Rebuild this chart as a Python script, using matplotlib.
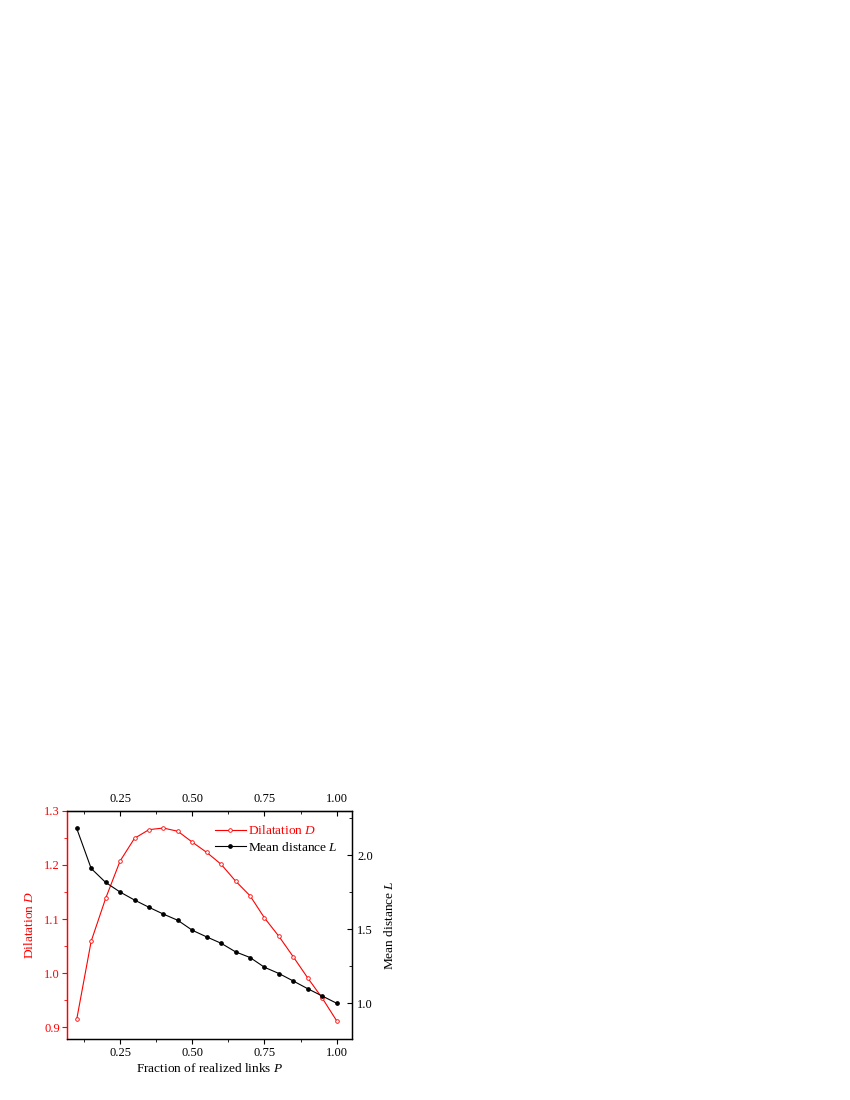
import matplotlib.pyplot as plt
from matplotlib.ticker import MultipleLocator

plt.rcParams['font.family'] = ['Liberation Serif', 'DejaVu Serif']
plt.rcParams['mathtext.fontset'] = 'custom'
plt.rcParams['mathtext.it'] = 'Liberation Serif:italic'
plt.rcParams['mathtext.rm'] = 'Liberation Serif'

# fraction of realized links P
p_values = [0.10, 0.15, 0.20, 0.25, 0.30, 0.35, 0.40, 0.45, 0.50, 0.55,
            0.60, 0.65, 0.70, 0.75, 0.80, 0.85, 0.90, 0.95, 1.00]
# dilatation D (left axis)
dilatation = [0.915, 1.059, 1.138, 1.207, 1.249, 1.265, 1.268, 1.262, 1.242,
              1.223, 1.201, 1.170, 1.143, 1.102, 1.068, 1.030, 0.991, 0.954,
              0.912]
# mean distance L (right axis)
mean_distance = [2.18, 1.910, 1.816, 1.751, 1.697, 1.648, 1.602, 1.560, 1.493,
                 1.448, 1.405, 1.347, 1.309, 1.243, 1.201, 1.150, 1.098, 1.049,
                 1.000]

red = '#ff0000'
fs_tick = 9
fs = 9.6

fig = plt.figure(figsize=(8.5, 11), dpi=100)
ax = fig.add_axes([0.0794, 0.0552, 0.3344, 0.2078])
ax2 = ax.twinx()

l1, = ax.plot(p_values, dilatation, color=red, lw=0.8, marker='o', ms=2.6,
              mfc='white', mec=red, mew=0.6, label='Dilatation $D$')
l2, = ax2.plot(p_values, mean_distance, color='black', lw=0.8, marker='o',
               ms=2.4, mfc='black', mec='black', label='Mean distance $L$')

ax.set_xlim(0.068, 1.052)
ax.set_ylim(0.878, 1.30)
ax2.set_ylim(0.757, 2.30)

ax.xaxis.set_major_locator(MultipleLocator(0.25))
ax.xaxis.set_minor_locator(MultipleLocator(0.125))
ax.yaxis.set_major_locator(MultipleLocator(0.1))
ax.yaxis.set_minor_locator(MultipleLocator(0.05))
ax2.yaxis.set_major_locator(MultipleLocator(0.5))
ax2.yaxis.set_minor_locator(MultipleLocator(0.25))
ax.xaxis.set_major_formatter(lambda v, pos: f'{v:.2f}')
ax.yaxis.set_major_formatter(lambda v, pos: f'{v:.1f}')
ax2.yaxis.set_major_formatter(lambda v, pos: f'{v:.1f}')

ax.tick_params(axis='x', which='major', direction='out', length=3.5,
               labelsize=fs_tick, pad=2)
ax.tick_params(axis='x', which='minor', direction='out', length=2)
ax.tick_params(axis='y', which='major', direction='out', length=3.5,
               labelsize=fs_tick, colors=red, pad=2)
ax.tick_params(axis='y', which='minor', direction='out', length=2,
               colors=red)
ax2.tick_params(axis='y', which='major', direction='in', length=3.5,
                labelsize=fs_tick, pad=4)
ax2.tick_params(axis='y', which='minor', direction='in', length=2)

top = ax.secondary_xaxis('top')
top.xaxis.set_major_locator(MultipleLocator(0.25))
top.xaxis.set_minor_locator(MultipleLocator(0.125))
top.xaxis.set_major_formatter(lambda v, pos: f'{v:.2f}')
top.tick_params(axis='x', which='major', direction='in', length=3.5,
                labelsize=fs_tick, pad=4)
top.tick_params(axis='x', which='minor', direction='in', length=2)

for a in (ax, ax2):
    for s in a.spines.values():
        s.set_linewidth(0.9)
ax.spines['left'].set_color(red)
ax2.spines['left'].set_color(red)

ax.set_xlabel('Fraction of realized links $P$', fontsize=fs, labelpad=2)
ax.set_ylabel('Dilatation $D$', fontsize=fs, color=red, labelpad=6)
ax2.set_ylabel('Mean distance $L$', fontsize=fs, labelpad=7)

leg = ax.legend(handles=[l1, l2], loc='upper right', frameon=False,
                fontsize=fs, handlelength=2.3, handletextpad=0.2,
                labelspacing=0.25, bbox_to_anchor=(0.98, 0.975),
                borderaxespad=0.2)
leg.get_texts()[0].set_color(red)

fig.savefig('out.png', dpi=100)
